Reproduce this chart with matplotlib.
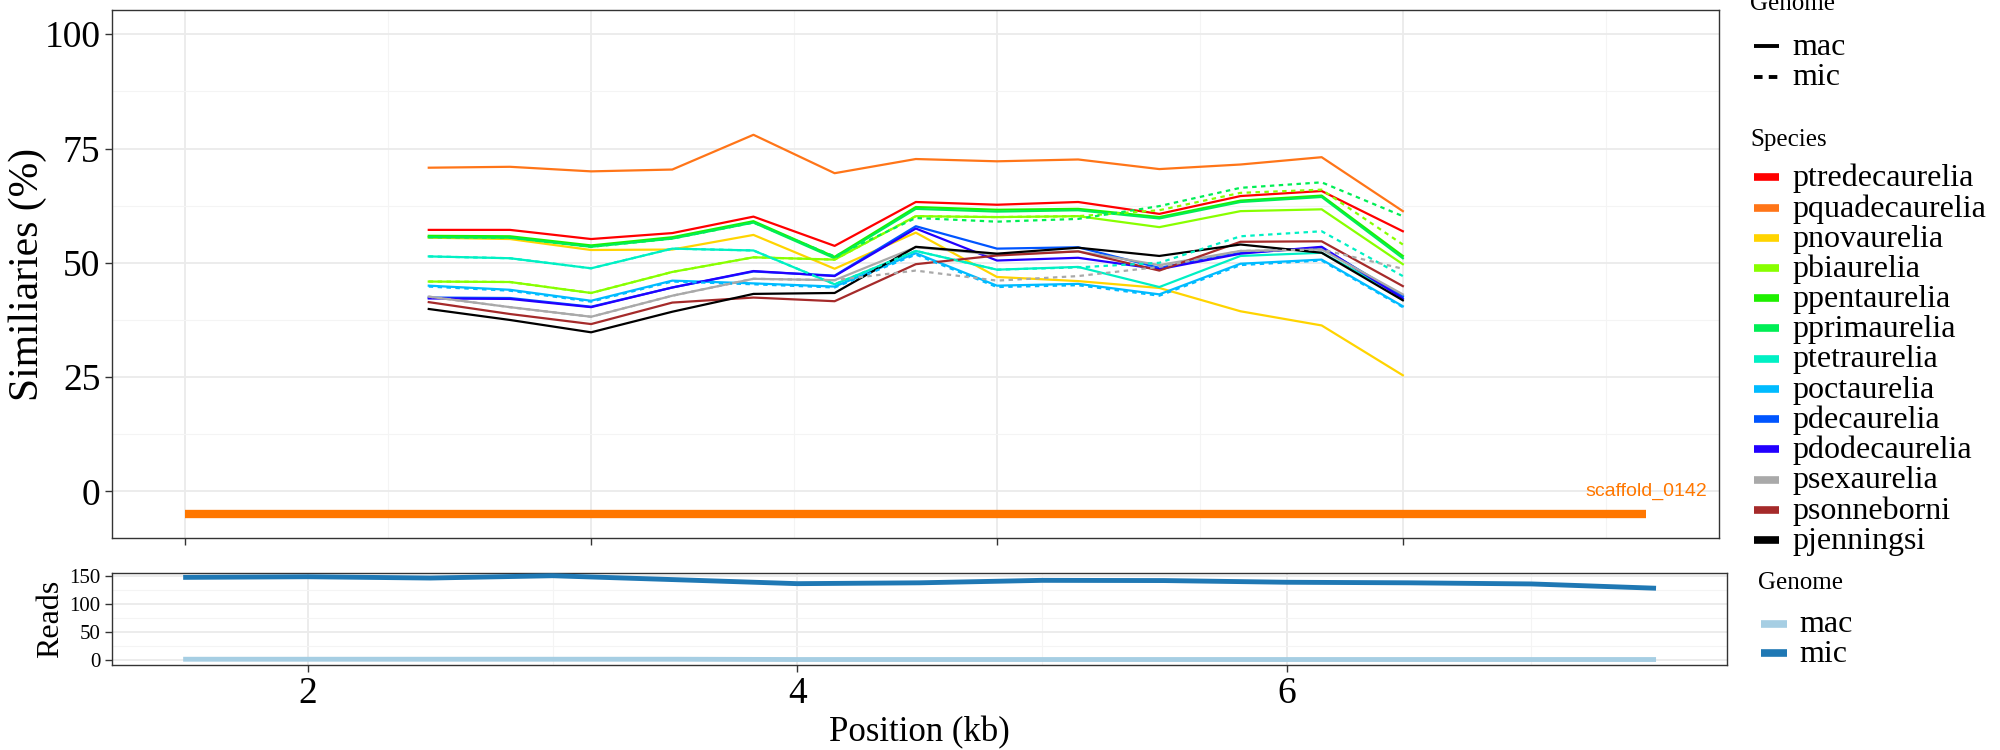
import matplotlib
matplotlib.use("Agg")
import matplotlib.pyplot as plt
from matplotlib.lines import Line2D
import numpy as np

plt.rcParams['font.family'] = ['Liberation Serif', 'DejaVu Serif']

# window centres on the scaffold (bp) for the similarity panel
win_pos = [1200, 1600, 2000, 2400, 2800, 3200, 3600, 4000, 4400, 4800, 5200, 5600, 6000]
scaffold_name = "scaffold_0142"
scaffold_start = 0
scaffold_end = 7200

species = ["ptredecaurelia", "pquadecaurelia", "pnovaurelia", "pbiaurelia", "ppentaurelia",
           "pprimaurelia", "ptetraurelia", "poctaurelia", "pdecaurelia", "pdodecaurelia",
           "psexaurelia", "psonneborni", "pjenningsi"]
colors = ["#FF0000", "#FF7518", "#FFD400", "#88FF00", "#1EF000",
          "#00EE55", "#00F0C4", "#00BBFF", "#0055FF", "#2200FF",
          "#A9A9A9", "#A52A2A", "#000000"]

# mac similarities (%)
mac = {
    "ptredecaurelia": [57.2, 57.2, 55.2, 56.5, 60.1, 53.7, 63.3, 62.7, 63.3, 60.7, 64.6, 65.7, 56.9],
    "pquadecaurelia": [70.8, 71.0, 70.0, 70.4, 78.0, 69.6, 72.7, 72.2, 72.6, 70.5, 71.5, 73.1, 61.3],
    "pnovaurelia":    [55.5, 55.2, 52.8, 52.9, 56.1, 48.7, 56.6, 46.9, 46.0, 44.5, 39.4, 36.3, 25.4],
    "pbiaurelia":     [45.9, 45.8, 43.4, 48.0, 51.2, 50.7, 60.2, 60.0, 60.2, 57.8, 61.3, 61.7, 49.7],
    "ppentaurelia":   [55.9, 55.8, 53.8, 55.6, 59.1, 51.3, 62.2, 61.6, 61.8, 60.0, 63.6, 64.7, 51.5],
    "pprimaurelia":   [55.6, 55.5, 53.5, 55.3, 58.8, 51.0, 61.8, 61.2, 61.5, 59.7, 63.3, 64.4, 51.0],
    "ptetraurelia":   [51.4, 51.0, 48.8, 53.1, 52.7, 45.3, 52.6, 48.5, 49.1, 44.7, 51.5, 52.2, 42.6],
    "poctaurelia":    [45.0, 44.1, 41.7, 46.1, 45.5, 44.8, 52.1, 45.0, 45.4, 43.1, 49.8, 50.7, 40.5],
    "pdecaurelia":    [42.4, 42.3, 40.4, 44.6, 48.1, 47.2, 58.0, 53.1, 53.4, 48.9, 52.2, 53.3, 42.7],
    "pdodecaurelia":  [42.2, 42.1, 40.3, 44.6, 48.2, 47.1, 57.5, 50.5, 51.1, 48.6, 52.0, 53.5, 42.2],
    "psexaurelia":    [42.6, 40.3, 38.2, 42.8, 46.5, 46.2, 53.4, 51.8, 52.5, 49.5, 52.6, 52.9, 43.1],
    "psonneborni":    [41.4, 38.8, 36.6, 41.3, 42.4, 41.6, 49.7, 51.6, 52.5, 48.3, 54.6, 54.7, 44.9],
    "pjenningsi":     [39.9, 37.5, 34.8, 39.3, 43.2, 43.4, 53.5, 52.0, 53.3, 51.5, 54.0, 52.2, 41.8],
}

# mic similarities (%) that split from the mac curves
mic = {
    "pbiaurelia":   [45.9, 45.8, 43.4, 48.0, 51.2, 50.7, 60.2, 60.0, 60.2, 61.5, 65.3, 66.0, 54.0],
    "pprimaurelia": [55.6, 55.5, 53.5, 55.3, 58.8, 51.4, 59.8, 59.0, 59.6, 62.4, 66.4, 67.6, 60.2],
    "ptetraurelia": [51.4, 51.0, 48.8, 53.1, 52.7, 45.3, 52.6, 48.5, 49.0, 50.0, 55.8, 56.9, 47.1],
    "poctaurelia":  [44.8, 43.9, 41.5, 45.9, 45.3, 44.6, 51.8, 44.7, 45.1, 42.8, 49.5, 50.5, 40.3],
    "psexaurelia":  [42.6, 40.3, 38.2, 42.8, 46.5, 46.2, 48.3, 46.1, 47.1, 49.1, 52.6, 52.9, 48.7],
}

# read depth
reads_pos = [1.5, 2.0, 2.5, 3.0, 3.5, 4.0, 4.5, 5.0, 5.5, 6.0, 6.5, 7.0, 7.5]
reads_mac = [2, 2, 2, 2, 2, 1.5, 1.5, 1.5, 1.5, 1.5, 1.5, 1.5, 1.5]
reads_mic = [147.7, 148.8, 146.5, 150.6, 143.6, 136.5, 138.0, 142.4, 142.0, 139.0, 138.0, 136.0, 128.5]
genome_labels = ["mac", "mic"]
reads_colors = ["#A6CEE3", "#1F78B4"]

fig = plt.figure(figsize=(20, 7.5), dpi=100)
ax1 = fig.add_axes([0.0561, 0.2823, 0.8036, 0.7041])
ax2 = fig.add_axes([0.0561, 0.1139, 0.8074, 0.1225])

grid_major = "#EBEBEB"
grid_minor = "#F4F4F4"

def style(ax):
    ax.set_facecolor("white")
    ax.grid(True, which="major", color=grid_major, lw=1.3, zorder=0)
    ax.grid(True, which="minor", color=grid_minor, lw=0.8, zorder=0)
    ax.set_axisbelow(True)
    for sp in ax.spines.values():
        sp.set_color("#333333")
        sp.set_linewidth(1.0)
    ax.tick_params(which="major", direction="out", length=5, width=1, color="#333333")
    ax.tick_params(which="minor", length=0)

# top panel
style(ax1)
for sp, col in zip(species, colors):
    ax1.plot(win_pos, mac[sp], color=col, lw=1.6, zorder=3)
for sp, col in zip(species, colors):
    if sp in mic:
        ax1.plot(win_pos, mic[sp], color=col, lw=1.6, ls=(0, (2, 2)), zorder=3)
ax1.plot([scaffold_start, scaffold_end], [-5, -5], color="#FF7700", lw=6, solid_capstyle="butt", zorder=3)
ax1.text(scaffold_end, 0, scaffold_name, color="#FF7700", ha="center", va="center",
         fontsize=14, family="Liberation Sans")
ax1.set_xlim(-360, 7560)
ax1.set_ylim(-10.25, 105.25)
ax1.set_xticks([0, 2000, 4000, 6000])
ax1.set_xticks([1000, 3000, 5000, 7000], minor=True)
ax1.set_xticklabels([])
ax1.set_yticks([0, 25, 50, 75, 100])
ax1.set_yticks([12.5, 37.5, 62.5, 87.5], minor=True)
ax1.tick_params(axis="y", labelsize=27)
ax1.set_ylabel("Similiaries (%)", fontsize=30, va="center")
ax1.yaxis.set_label_coords(-0.0525, 0.5)

# bottom panel
style(ax2)
ax2.plot(reads_pos, reads_mac, color=reads_colors[0], lw=3.5, zorder=3)
ax2.plot(reads_pos, reads_mic, color=reads_colors[1], lw=3.5, zorder=3)
ax2.set_xlim(1.2, 7.8)
ax2.set_ylim(-7.5, 156)
ax2.set_xticks([2, 4, 6])
ax2.set_xticks([3, 5, 7], minor=True)
ax2.set_yticks([0, 50, 100, 150])
ax2.set_yticks([25, 75, 125], minor=True)
ax2.tick_params(axis="x", labelsize=27)
ax2.tick_params(axis="y", labelsize=15)
ax2.set_ylabel("Reads", fontsize=23, va="center")
ax2.yaxis.set_label_coords(-0.038, 0.5)
ax2.set_xlabel("Position (kb)", fontsize=25, labelpad=4)

# legends, drawn by hand in figure coordinates
W, H = 1568.0, 588.0
def fx(x):
    return x / W
def fy(y):
    return 1 - y / H

leg_fs = 23
title_fs = 18

def legend_row(x0, y, col, lw, ls, label):
    fig.add_artist(Line2D([fx(x0), fx(x0 + 20)], [fy(y), fy(y)], transform=fig.transFigure,
                          color=col, lw=lw, ls=ls, solid_capstyle="butt"))
    fig.text(fx(x0 + 30), fy(y + 1), label, fontsize=leg_fs, ha="left", va="center")

fig.text(fx(1372), fy(3), "Genome", fontsize=title_fs, ha="left", va="center")
legend_row(1375, 36, "black", 2.8, "-", genome_labels[0])
legend_row(1375, 60, "black", 2.8, (0, (2.2, 1.6)), genome_labels[1])

fig.text(fx(1372), fy(110), "Species", fontsize=title_fs, ha="left", va="center")
for i, (sp, col) in enumerate(zip(species, colors)):
    legend_row(1375, 139 + i * 23.7, col, 5.5, "-", sp)

fig.text(fx(1378), fy(457), "Genome", fontsize=title_fs, ha="left", va="center")
legend_row(1381, 489, reads_colors[0], 5.5, "-", genome_labels[0])
legend_row(1381, 512, reads_colors[1], 5.5, "-", genome_labels[1])

fig.savefig("out.png", dpi=100)
